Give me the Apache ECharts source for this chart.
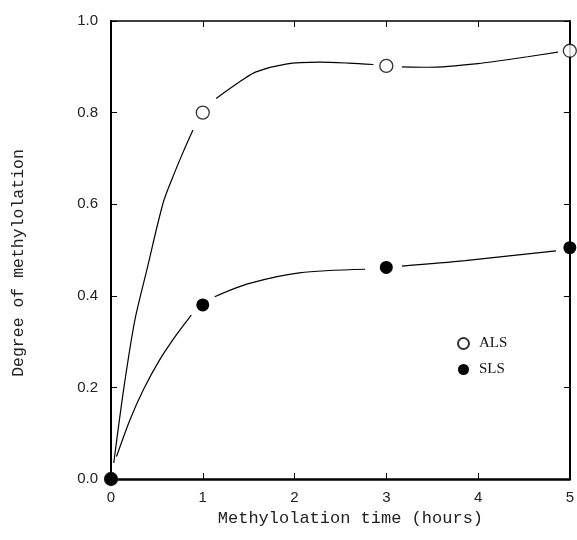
<!DOCTYPE html>
<html>
<head>
<meta charset="utf-8">
<script src="https://cdn.jsdelivr.net/npm/echarts@6/dist/echarts.min.js"></script>
<style>html,body{margin:0;padding:0;background:#fff;}#c{width:577px;height:540px;}</style>
</head>
<body>
<div id="c"></div>
<script>
// measured data points
var timeHours = [0, 1, 3, 5];
var alsDegree = [0, 0.80, 0.902, 0.935];
var slsDegree = [0, 0.38, 0.462, 0.505];

// fitted curves (null = gap around a marker)
var alsCurveX = [0.03, 0.141, 0.26, 0.39, 0.567, 0.675, 0.78, 0.893, null, 1.146, 1.43, 1.58, 1.905, 2.27, 2.59, 2.86, null, 3.17, 3.46, 4.0, 4.54, 4.87];
var alsCurveY = [0.035, 0.2, 0.347, 0.456, 0.602, 0.66, 0.711, 0.762, null, 0.831, 0.871, 0.889, 0.906, 0.910, 0.908, 0.905, null, 0.90, 0.899, 0.907, 0.922, 0.932];
var slsCurveX = [0.06, 0.206, 0.35, 0.53, 0.71, 0.875, null, 1.13, 1.51, 2.05, 2.77, null, 3.17, 3.86, 4.85];
var slsCurveY = [0.049, 0.129, 0.194, 0.26, 0.314, 0.358, null, 0.398, 0.427, 0.450, 0.458, null, 0.465, 0.477, 0.498];

var xTicks = [0, 1, 2, 3, 4, 5];
var yTicks = [0.0, 0.2, 0.4, 0.6, 0.8, 1.0];

var xTitle = 'Methylolation time (hours)';
var yTitle = 'Degree of methylolation';

function segments(xs, ys) {
  var segs = [], cur = [];
  for (var i = 0; i < xs.length; i++) {
    if (xs[i] === null) { if (cur.length) segs.push(cur); cur = []; }
    else cur.push([xs[i], ys[i]]);
  }
  if (cur.length) segs.push(cur);
  return segs;
}
function pairs(xs, ys) { return xs.map(function (x, i) { return [x, ys[i]]; }); }

var series = [];
segments(alsCurveX, alsCurveY).concat(segments(slsCurveX, slsCurveY)).forEach(function (seg) {
  series.push({
    type: 'line', data: seg, smooth: 0.3, showSymbol: false, silent: true,
    lineStyle: { color: '#000', width: 1.2 }, z: 2
  });
});
series.push({
  name: 'ALS', type: 'scatter', data: pairs(timeHours, alsDegree), symbol: 'circle', symbolSize: 13,
  clip: false, itemStyle: { color: '#fff', borderColor: '#000', borderWidth: 1.3 }, z: 3
});
series.push({
  name: 'SLS', type: 'scatter', data: pairs(timeHours, slsDegree), symbol: 'circle', symbolSize: 13,
  clip: false, itemStyle: { color: '#000', opacity: 1 }, z: 4
});

var tickLabel = { color: '#222', fontFamily: 'Liberation Sans, Arial, sans-serif', fontSize: 15 };
var titleFont = 'Liberation Mono, monospace';

var option = {
  animation: false,
  backgroundColor: '#fff',
  grid: { left: 111, right: 5, top: 21, bottom: 61, containLabel: false },
  legend: {
    data: ['ALS', 'SLS'], orient: 'vertical', left: 452, top: 331,
    itemWidth: 11, itemHeight: 11, itemGap: 11, selectedMode: false,
    textStyle: { color: '#111', fontFamily: 'Liberation Serif, Times New Roman, serif', fontSize: 15, padding: [0, 0, 0, 5] }
  },
  xAxis: [{
    type: 'value', position: 'bottom', min: xTicks[0], max: xTicks[xTicks.length - 1], interval: 1,
    splitLine: { show: false },
    axisLine: { show: true, onZero: false, lineStyle: { color: '#000', width: 2.5 } },
    axisTick: { show: true, inside: true, length: 6, lineStyle: { color: '#000', width: 1 } },
    axisLabel: Object.assign({ margin: 11 }, tickLabel),
    name: xTitle, nameLocation: 'middle', nameGap: 29,
    nameTextStyle: { color: '#222', fontFamily: titleFont, fontSize: 17, padding: [0, 0, 0, 20] }
  }, {
    type: 'value', position: 'top', min: xTicks[0], max: xTicks[xTicks.length - 1], interval: 1,
    splitLine: { show: false },
    axisLine: { show: true, onZero: false, lineStyle: { color: '#000', width: 1.5 } },
    axisTick: { show: true, inside: true, length: 6, lineStyle: { color: '#000', width: 1 } },
    axisLabel: { show: false }
  }],
  yAxis: [{
    type: 'value', position: 'left', min: yTicks[0], max: yTicks[yTicks.length - 1], interval: 0.2,
    splitLine: { show: false },
    axisLine: { show: true, onZero: false, lineStyle: { color: '#000', width: 2 } },
    axisTick: { show: true, inside: true, length: 6, lineStyle: { color: '#000', width: 1 } },
    axisLabel: Object.assign({ margin: 13, formatter: function (v) { return v.toFixed(1); } }, tickLabel),
    name: yTitle, nameLocation: 'middle', nameGap: 84, nameRotate: 90,
    nameTextStyle: { color: '#222', fontFamily: titleFont, fontSize: 16.5, padding: [0, 26, 0, 0] }
  }, {
    type: 'value', position: 'right', min: yTicks[0], max: yTicks[yTicks.length - 1], interval: 0.2,
    splitLine: { show: false },
    axisLine: { show: true, onZero: false, lineStyle: { color: '#000', width: 2 } },
    axisTick: { show: true, inside: true, length: 6, lineStyle: { color: '#000', width: 1 } },
    axisLabel: { show: false }
  }],
  series: series
};

var chart = echarts.init(document.getElementById('c'), null, { renderer: 'canvas' });
chart.setOption(option);
</script>
</body>
</html>
